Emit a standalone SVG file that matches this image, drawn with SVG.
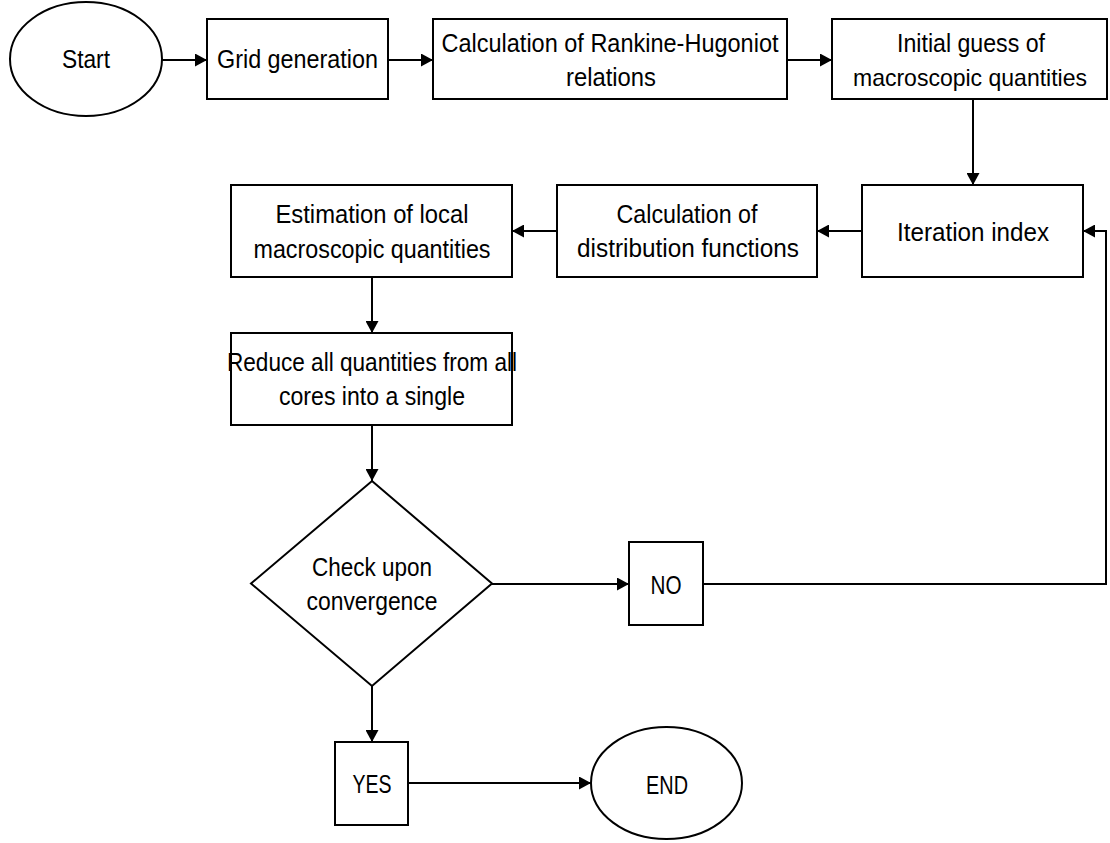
<svg xmlns="http://www.w3.org/2000/svg" width="1110" height="843" viewBox="0 0 1110 843">
  <style>
    .shape { fill: #ffffff; stroke: #000000; stroke-width: 2; }
    .conn { fill: none; stroke: #000000; stroke-width: 2; }
    text { font-family: "Liberation Sans", Arial, sans-serif; font-size: 26px; fill: #000000; text-anchor: middle; }
    .snug { font-size: 24px; }
  </style>
  <defs>
    <marker id="arrow" markerWidth="12" markerHeight="13" refX="12" refY="6.5" orient="auto" markerUnits="userSpaceOnUse">
      <path d="M0,0 L12,6.5 L0,13 Z" fill="#000000"/>
    </marker>
  </defs>
  <rect width="1110" height="843" fill="#ffffff"/>

  <g id="connectors">
    <line class="conn" x1="162" y1="60" x2="207" y2="60" marker-end="url(#arrow)"/>
    <line class="conn" x1="388" y1="60" x2="433" y2="60" marker-end="url(#arrow)"/>
    <line class="conn" x1="787" y1="60" x2="832" y2="60" marker-end="url(#arrow)"/>
    <line class="conn" x1="973" y1="99" x2="973" y2="185" marker-end="url(#arrow)"/>
    <line class="conn" x1="862" y1="231" x2="817" y2="231" marker-end="url(#arrow)"/>
    <line class="conn" x1="557" y1="231" x2="512" y2="231" marker-end="url(#arrow)"/>
    <line class="conn" x1="372" y1="277" x2="372" y2="333" marker-end="url(#arrow)"/>
    <line class="conn" x1="372" y1="425" x2="372" y2="481" marker-end="url(#arrow)"/>
    <line class="conn" x1="492" y1="584" x2="629" y2="584" marker-end="url(#arrow)"/>
    <path class="conn" d="M703,584 L1106,584 L1106,231 L1083,231" marker-end="url(#arrow)"/>
    <line class="conn" x1="372" y1="686" x2="372" y2="742" marker-end="url(#arrow)"/>
    <line class="conn" x1="408" y1="783" x2="591" y2="783" marker-end="url(#arrow)"/>
  </g>

  <g id="start">
    <ellipse class="shape" cx="86" cy="59" rx="76" ry="57"/>
    <text x="86" y="68" textLength="48" lengthAdjust="spacingAndGlyphs">Start</text>
  </g>

  <g id="grid-generation">
    <rect class="shape" x="207" y="19" width="181" height="80"/>
    <text x="297.5" y="68" textLength="161" lengthAdjust="spacingAndGlyphs">Grid generation</text>
  </g>

  <g id="rankine-hugoniot">
    <rect class="shape" x="433" y="19" width="354" height="80"/>
    <text x="610" y="52" textLength="337" lengthAdjust="spacingAndGlyphs">Calculation of Rankine-Hugoniot</text>
    <text x="611" y="86" textLength="90" lengthAdjust="spacingAndGlyphs">relations</text>
  </g>

  <g id="initial-guess">
    <rect class="shape" x="832" y="19" width="275" height="80"/>
    <text x="971" y="52" textLength="148" lengthAdjust="spacingAndGlyphs">Initial guess of</text>
    <text class="snug" x="970" y="86" textLength="234" lengthAdjust="spacingAndGlyphs">macroscopic quantities</text>
  </g>

  <g id="iteration-index">
    <rect class="shape" x="862" y="185" width="221" height="92"/>
    <text x="973" y="241" textLength="152" lengthAdjust="spacingAndGlyphs">Iteration index</text>
  </g>

  <g id="distribution-functions">
    <rect class="shape" x="557" y="185" width="260" height="92"/>
    <text x="687" y="223" textLength="141" lengthAdjust="spacingAndGlyphs">Calculation of</text>
    <text x="688" y="257" textLength="222" lengthAdjust="spacingAndGlyphs">distribution functions</text>
  </g>

  <g id="local-quantities">
    <rect class="shape" x="231" y="185" width="281" height="92"/>
    <text x="372" y="223" textLength="193" lengthAdjust="spacingAndGlyphs">Estimation of local</text>
    <text x="372" y="258" textLength="237" lengthAdjust="spacingAndGlyphs">macroscopic quantities</text>
  </g>

  <g id="reduce">
    <rect class="shape" x="231" y="333" width="281" height="92"/>
    <text x="372" y="371" textLength="290" lengthAdjust="spacingAndGlyphs">Reduce all quantities from all</text>
    <text x="372" y="405" textLength="186" lengthAdjust="spacingAndGlyphs">cores into a single</text>
  </g>

  <g id="convergence-check">
    <polygon class="shape" points="372,481 492,583.5 372,686 251,583.5"/>
    <text x="372" y="576" textLength="120" lengthAdjust="spacingAndGlyphs">Check upon</text>
    <text x="372" y="610" textLength="131" lengthAdjust="spacingAndGlyphs">convergence</text>
  </g>

  <g id="no">
    <rect class="shape" x="629" y="542" width="74" height="83"/>
    <text x="666" y="594" textLength="31" lengthAdjust="spacingAndGlyphs">NO</text>
  </g>

  <g id="yes">
    <rect class="shape" x="335" y="742" width="73" height="83"/>
    <text x="372" y="793" textLength="39" lengthAdjust="spacingAndGlyphs">YES</text>
  </g>

  <g id="end">
    <ellipse class="shape" cx="666.5" cy="783" rx="75.5" ry="56"/>
    <text x="667" y="794" textLength="42" lengthAdjust="spacingAndGlyphs">END</text>
  </g>
</svg>
